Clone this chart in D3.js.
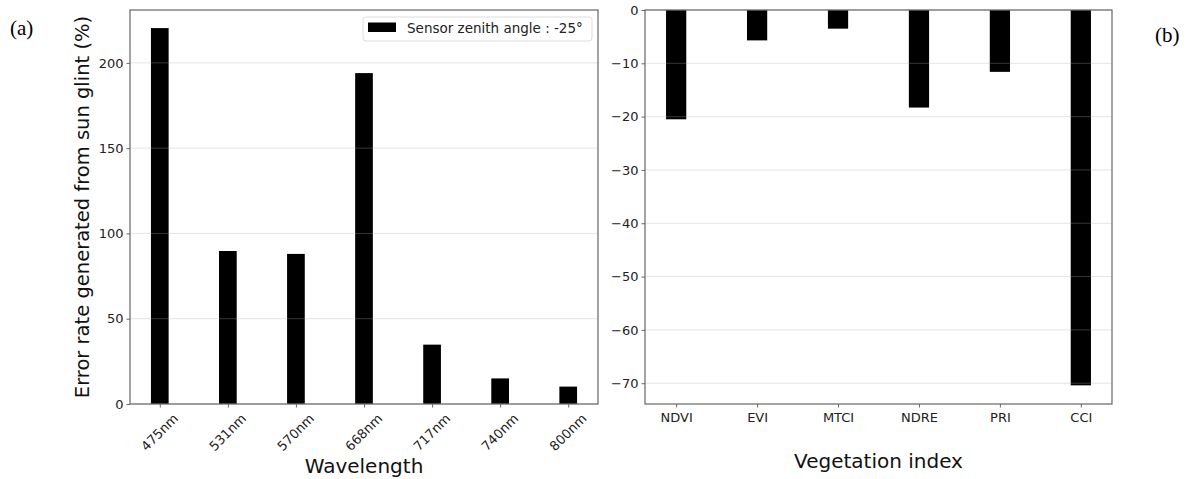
<!DOCTYPE html>
<html>
<head>
<meta charset="utf-8">
<script src="https://cdn.jsdelivr.net/npm/d3@7"></script>
<style>
  body { margin: 0; background: #fff; }
  svg text { font-family: "DejaVu Sans", sans-serif; }
</style>
</head>
<body>
<svg id="chart" width="1189" height="479"></svg>
<script>
// panel (a): error rate from sun glint per band
const wavelengths = ["475nm", "531nm", "570nm", "668nm", "717nm", "740nm", "800nm"]
const errorRate = [220.4, 89.7, 88, 194, 34.8, 15, 10.2]
const errorTicks = [0, 50, 100, 150, 200]
// panel (b): vegetation index error
const indices = ["NDVI", "EVI", "MTCI", "NDRE", "PRI", "CCI"]
const indexError = [-20.5, -5.7, -3.5, -18.3, -11.6, -70.4]
const indexTicks = [0, -10, -20, -30, -40, -50, -60, -70]
const legendLabel = "Sensor zenith angle : -25°"

const svg = d3.select("#chart")
const spine = "#666"
const tickColor = "#222"
const gridColor = "rgba(170,170,170,0.32)"

function drawPanel(box, cats, values, ticks, yDomain, pad, barW) {
  let g = svg.append("g")
  let x = d3.scaleLinear().domain([-pad, cats.length - 1 + pad]).range([box.left, box.right])
  let y = d3.scaleLinear().domain(yDomain).range([box.bottom, box.top])
  let step = x(1) - x(0)
  // bars
  g.selectAll(".bar")
    .data(values)
    .enter()
    .append("rect")
    .attr("x", (d, i) => x(i) - step * barW / 2)
    .attr("y", d => Math.min(y(d), y(0)))
    .attr("width", step * barW)
    .attr("height", d => Math.abs(y(d) - y(0)))
    .attr("fill", "#000")
  // grid on top, faint
  g.selectAll(".grid")
    .data(ticks)
    .enter()
    .append("line")
    .attr("x1", box.left)
    .attr("x2", box.right)
    .attr("y1", d => y(d))
    .attr("y2", d => y(d))
    .attr("stroke", gridColor)
    .attr("stroke-width", 1)
  // axes
  let yAxis = d3.axisLeft(y).tickValues(ticks).tickSize(3.5).tickPadding(3)
  let ya = g.append("g").attr("transform", `translate(${box.left},0)`).call(yAxis)
  ya.select(".domain").remove()
  ya.selectAll("line").attr("stroke", spine)
  ya.selectAll("text").attr("fill", tickColor).attr("font-size", "13px")
  let xAxis = d3.axisBottom(x).tickValues(d3.range(cats.length)).tickFormat(i => cats[i]).tickSize(3.5)
  let xa = g.append("g").attr("transform", `translate(0,${box.bottom})`).call(xAxis)
  xa.select(".domain").remove()
  xa.selectAll("line").attr("stroke", spine)
  xa.selectAll("text").attr("fill", tickColor).attr("font-size", "13px")
  g.append("rect")
    .attr("x", box.left)
    .attr("y", box.top)
    .attr("width", box.right - box.left)
    .attr("height", box.bottom - box.top)
    .attr("fill", "none")
    .attr("stroke", spine)
    .attr("stroke-width", 1.2)
  return { g, x, y, xa }
}

// (a)
let boxA = { left: 130, right: 598, top: 10, bottom: 404 }
let a = drawPanel(boxA, wavelengths, errorRate, errorTicks, [0, 231], 0.4375, 0.26)
a.xa.selectAll("text")
  .attr("text-anchor", "middle")
  .attr("dy", 0)
  .attr("y", 0)
  .attr("transform", d => `translate(0,29) rotate(-45)`)
  .attr("dominant-baseline", "middle")
a.g.append("text")
  .attr("x", (boxA.left + boxA.right) / 2)
  .attr("y", 473)
  .attr("text-anchor", "middle")
  .attr("font-size", "20px")
  .attr("fill", "#111")
  .text("Wavelength")
a.g.append("text")
  .attr("transform", `translate(89,${(boxA.top + boxA.bottom) / 2}) rotate(-90)`)
  .attr("text-anchor", "middle")
  .attr("font-size", "19.5px")
  .attr("fill", "#111")
  .text("Error rate generated from sun glint (%)")

// legend
let lg = a.g.append("g")
lg.append("rect")
  .attr("x", 363).attr("y", 17).attr("width", 229).attr("height", 24)
  .attr("rx", 3).attr("fill", "#fff").attr("stroke", "#ddd")
lg.append("rect")
  .attr("x", 368).attr("y", 22.5).attr("width", 28).attr("height", 9.5).attr("fill", "#000")
lg.append("text")
  .attr("x", 407).attr("y", 32.5)
  .attr("font-size", "13.5px").attr("fill", "#222")
  .text(legendLabel)

// (b)
let boxB = { left: 645, right: 1112, top: 10, bottom: 404 }
let b = drawPanel(boxB, indices, indexError, indexTicks, [-73.9, 0], 0.385, 0.25)
b.xa.selectAll("text").attr("dy", "0.85em")
b.g.append("text")
  .attr("x", (boxB.left + boxB.right) / 2)
  .attr("y", 468)
  .attr("text-anchor", "middle")
  .attr("font-size", "20px")
  .attr("fill", "#111")
  .text("Vegetation index")

// panel letters
svg.append("text")
  .attr("x", 10).attr("y", 35)
  .style("font-family", "'Liberation Serif', 'Times New Roman', serif")
  .attr("font-size", "21px")
  .text("(a)")
svg.append("text")
  .attr("x", 1155).attr("y", 42)
  .style("font-family", "'Liberation Serif', 'Times New Roman', serif")
  .attr("font-size", "21px")
  .text("(b)")
</script>
</body>
</html>
